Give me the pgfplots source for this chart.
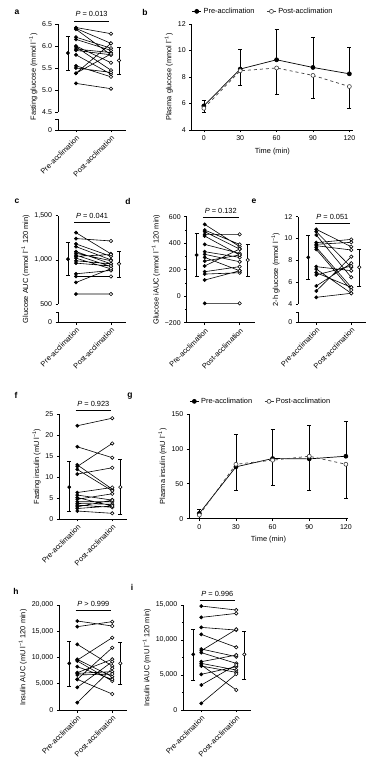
\documentclass[border=0pt]{standalone}
\usepackage{fontspec}
\setmainfont{Liberation Sans}
\usepackage{pgfplots}
\pgfplotsset{compat=1.18}
\usepackage{pgfplotstable}
\newcommand{\fs}{\fontsize{7.4}{8.4}\selectfont}
\newcommand{\fn}{\fontsize{7}{8}\selectfont}
\newcommand{\inv}{\textsuperscript{−1}}

% paired data: long format, x=0 pre, x=1 post, nan row separates pairs
\pgfplotstableread[row sep=\\]{x y\\
0 6.42\\1 6.28\\0 nan\\0 6.40\\1 6.06\\0 nan\\0 6.38\\1 5.80\\0 nan\\0 6.20\\1 5.95\\0 nan\\
0 6.15\\1 5.90\\0 nan\\0 6.00\\1 5.62\\0 nan\\0 5.98\\1 5.45\\0 nan\\0 5.93\\1 5.85\\0 nan\\
0 5.90\\1 5.80\\0 nan\\0 5.80\\1 5.36\\0 nan\\0 5.55\\1 5.30\\0 nan\\0 5.50\\1 5.40\\0 nan\\
0 5.38\\1 5.82\\0 nan\\0 5.38\\1 6.06\\0 nan\\0 5.15\\1 5.03\\}\tA

\pgfplotstableread[row sep=\\]{x y\\
0 1308\\1 1068\\0 nan\\0 1241\\1 1214\\0 nan\\0 1180\\1 1040\\0 nan\\0 1150\\1 1000\\0 nan\\
0 1094\\1 955\\0 nan\\0 1075\\1 990\\0 nan\\0 1053\\1 925\\0 nan\\0 1040\\1 1060\\0 nan\\
0 1019\\1 898\\0 nan\\0 989\\1 955\\0 nan\\0 963\\1 930\\0 nan\\0 842\\1 880\\0 nan\\
0 812\\1 812\\0 nan\\0 744\\1 900\\0 nan\\0 613\\1 613\\}\tC

\pgfplotstableread[row sep=\\]{x y\\
0 542\\1 374\\0 nan\\0 499\\1 391\\0 nan\\0 487\\1 356\\0 nan\\0 467\\1 467\\0 nan\\
0 454\\1 311\\0 nan\\0 391\\1 323\\0 nan\\0 336\\1 293\\0 nan\\0 316\\1 260\\0 nan\\
0 293\\1 192\\0 nan\\0 265\\1 311\\0 nan\\0 228\\1 356\\0 nan\\0 185\\1 223\\0 nan\\
0 167\\1 177\\0 nan\\0 122\\1 192\\0 nan\\0 -54\\1 -54\\}\tD

\pgfplotstableread[row sep=\\]{x y\\
0 10.84\\1 9.25\\0 nan\\0 10.63\\1 7.36\\0 nan\\0 10.32\\1 6.44\\0 nan\\0 9.62\\1 9.92\\0 nan\\
0 9.47\\1 9.65\\0 nan\\0 9.34\\1 8.95\\0 nan\\0 9.19\\1 5.53\\0 nan\\0 9.00\\1 5.28\\0 nan\\
0 7.42\\1 7.05\\0 nan\\0 7.20\\1 4.98\\0 nan\\0 6.87\\1 5.53\\0 nan\\0 6.66\\1 7.48\\0 nan\\
0 5.65\\1 7.73\\0 nan\\0 5.19\\1 8.34\\0 nan\\0 4.61\\1 4.98\\}\tE

\pgfplotstableread[row sep=\\]{x y\\
0 22.2\\1 24.0\\0 nan\\0 17.2\\1 14.6\\0 nan\\0 12.9\\1 7.1\\0 nan\\0 12.5\\1 18.0\\0 nan\\
0 11.8\\1 6.7\\0 nan\\0 10.7\\1 12.2\\0 nan\\0 6.3\\1 7.5\\0 nan\\0 5.7\\1 4.5\\0 nan\\
0 5.1\\1 3.1\\0 nan\\0 4.7\\1 6.0\\0 nan\\0 4.1\\1 4.1\\0 nan\\0 3.7\\1 3.5\\0 nan\\
0 3.3\\1 2.8\\0 nan\\0 2.9\\1 4.5\\0 nan\\0 2.5\\1 3.1\\0 nan\\0 1.9\\1 1.35\\}\tF

\pgfplotstableread[row sep=\\]{x y\\
0 16950\\1 16000\\0 nan\\0 15870\\1 16830\\0 nan\\0 12510\\1 8380\\0 nan\\0 9650\\1 6350\\0 nan\\
0 9500\\1 13780\\0 nan\\0 9330\\1 5520\\0 nan\\0 8250\\1 5840\\0 nan\\0 7110\\1 9650\\0 nan\\
0 6980\\1 7300\\0 nan\\0 6670\\1 6860\\0 nan\\0 5840\\1 11870\\0 nan\\0 5840\\1 3050\\0 nan\\
0 4320\\1 9210\\0 nan\\0 1400\\1 7940\\}\tH

\pgfplotstableread[row sep=\\]{x y\\
0 14850\\1 14280\\0 nan\\0 13230\\1 13800\\0 nan\\0 11800\\1 11420\\0 nan\\0 10800\\1 8950\\0 nan\\
0 8710\\1 7620\\0 nan\\0 8470\\1 11520\\0 nan\\0 8190\\1 6660\\0 nan\\0 6900\\1 7850\\0 nan\\
0 6660\\1 5710\\0 nan\\0 6430\\1 2860\\0 nan\\0 6280\\1 5380\\0 nan\\0 5100\\1 6190\\0 nan\\
0 3570\\1 6430\\0 nan\\0 950\\1 5140\\}\tI

% time courses: t, mean, error (pre: upward, post: downward)
\pgfplotstableread[row sep=\\]{t m e\\0 5.82 0.45\\30 8.60 1.46\\60 9.30 2.27\\90 8.72 2.30\\120 8.24 2.02\\}\BPre
\pgfplotstableread[row sep=\\]{t m e\\0 5.64 0.33\\30 8.47 1.09\\60 8.68 2.00\\90 8.12 1.75\\120 7.28 1.61\\}\BPost
\pgfplotstableread[row sep=\\]{t m e\\0 7.6 5.7\\30 74.3 46.7\\60 86.2 41.4\\90 85.7 47.6\\120 89.5 50.5\\}\GPre
\pgfplotstableread[row sep=\\]{t m e\\0 5.2 5.0\\30 78.0 37.0\\60 83.8 36.2\\90 89.5 48.5\\120 78.0 49.4\\}\GPost

\tikzset{axl/.style={line width=0.6pt},
  lab/.style={font=\bfseries\fontsize{8.5}{9}\selectfont}}

\pgfplotsset{
  base/.style={scale only axis, axis x line*=bottom, axis y line*=left,
    tick align=outside, major tick length=2.5pt, minor tick length=1.5pt,
    every tick/.style={black, line width=0.6pt},
    axis line style={line width=0.6pt},
    tick label style={font=\fn}, label style={font=\fs},
    scaled y ticks=false, scaled x ticks=false,
    clip=false, ylabel style={yshift=-2pt}},
  paired/.style={base, width=68pt, xmin=-0.514, xmax=1.43, xtick={0,1},
    xticklabels={Pre-acclimation,Post-acclimation},
    x tick label style={rotate=45, anchor=north east, inner sep=1.5pt, font=\fs}},
  lineS/.style={black, line width=0.6pt, no marks, unbounded coords=jump},
  preM/.style={only marks, mark=*, mark size=1.7pt, black, restrict x to domain=-0.1:0.1},
  postM/.style={only marks, mark=*, mark size=1.7pt, black, mark options={fill=white, line width=0.6pt}, restrict x to domain=0.9:1.1},
  errs/.style={error bars/y explicit, error bars/error bar style={solid, line width=0.6pt, black},
    error bars/error mark options={solid, rotate=90, mark size=2pt, line width=0.6pt, black}},
  meanpre/.style={black, only marks, mark=*, mark size=1.7pt, errs, error bars/y dir=both},
  meanpost/.style={black, only marks, mark=*, mark size=1.7pt, mark options={fill=white, line width=0.6pt}, errs, error bars/y dir=both},
  tcleg/.style={legend columns=2, legend style={at={(0,1)}, anchor=south west, draw=none, fill=none, font=\fs, inner sep=0pt, yshift=7pt, /tikz/every even column/.append style={column sep=10pt}},
    legend image code/.code={\draw[mark repeat=2,mark phase=2,##1] plot coordinates {(0pt,0pt)(4.5pt,0pt)(9pt,0pt)};}},
  tcpre/.style={black, solid, line width=0.7pt, mark=*, mark size=2pt, errs, error bars/y dir=plus},
  tcpost/.style={black!75, dashed, line width=0.7pt, mark=*, mark size=2pt, mark options={solid, fill=white, line width=0.6pt}, errs, error bars/y dir=minus}
}

\begin{document}
\begin{tikzpicture}
\useasboundingbox (0,0) rectangle (378pt,769pt);
\node[lab] at (17pt,757pt) {a};
\node[lab] at (145pt,757pt) {b};
\node[lab] at (17pt,568pt) {c};
\node[lab] at (128pt,568pt) {d};
\node[lab] at (254pt,568pt) {e};
\node[lab] at (16pt,374pt) {f};
\node[lab] at (130pt,373pt) {g};
\node[lab] at (16pt,178pt) {h};
\node[lab] at (132pt,182pt) {i};

% ---------- a ----------
\begin{axis}[paired, at={(58pt,639pt)}, anchor=south west, height=106pt,
  ymin=4.091, ymax=6.5, ytick={4.091,4.5,5,5.5,6,6.5}, yticklabels={0,4.5,5.0,5.5,6.0,6.5},
  y axis line style={draw=none}, ylabel={Fasting glucose (mmol l\inv)}]
\addplot[lineS] table {\tA};
\addplot[preM] table {\tA};
\addplot[postM] table {\tA};
\addplot[meanpre] coordinates {(-0.23,5.84) += (0,0.38) -= (0,0.39)};
\addplot[meanpost] coordinates {(1.23,5.67) += (0,0.31) -= (0,0.31)};
\draw[axl] (axis cs:-0.514,4.5) -- (axis cs:-0.514,6.5);
\draw[axl] (axis cs:-0.514,4.091) -- (axis cs:-0.514,4.34) -- ([xshift=-2.5pt]axis cs:-0.514,4.34);
\draw[axl] (axis cs:-0.05,6.57) -- node[above=0.3pt, font=\fs]{\textit{P} = 0.013} (axis cs:0.94,6.57);
\end{axis}

% ---------- b ----------
\begin{axis}[base, tcleg, at={(191.7pt,639pt)}, anchor=south west, width=161.3pt, height=106pt,
  xmin=-10, xmax=123, ymin=4, ymax=12, xtick={0,30,60,90,120}, xticklabels={0,30,60,90,120},
  ytick={4,6,8,10,12}, yticklabels={4,6,8,10,12},
  xlabel={Time (min)}, ylabel={Plasma glucose (mmol l\inv)}]
\addplot[tcpre] table[x=t, y=m, y error=e] {\BPre};
\addlegendentry{Pre-acclimation}
\addplot[tcpost] table[x=t, y=m, y error=e] {\BPost};
\addlegendentry{Post-acclimation}
\end{axis}

% ---------- c ----------
\begin{axis}[paired, at={(58pt,446.7pt)}, anchor=south west, height=106.6pt,
  ymin=293, ymax=1500, ytick={293,500,1000,1500}, yticklabels={0,500,{1,000},{1,500}},
  y axis line style={draw=none}, ylabel={Glucose AUC (mmol l\inv\ 120 min)}]
\addplot[lineS] table {\tC};
\addplot[preM] table {\tC};
\addplot[postM] table {\tC};
\addplot[meanpre] coordinates {(-0.23,1008) += (0,187) -= (0,188)};
\addplot[meanpost] coordinates {(1.23,955) += (0,139) -= (0,150)};
\draw[axl] (axis cs:-0.514,500) -- (axis cs:-0.514,1500);
\draw[axl] (axis cs:-0.514,293) -- (axis cs:-0.514,401.5) -- ([xshift=-2.5pt]axis cs:-0.514,401.5);
\draw[axl] (axis cs:-0.05,1420) -- node[above=0.3pt, font=\fs]{\textit{P} = 0.041} (axis cs:0.97,1420);
\end{axis}

% ---------- d ----------
\begin{axis}[paired, at={(186.7pt,446.3pt)}, anchor=south west, height=106pt,
  ymin=-200, ymax=600, ytick={-200,0,200,400,600}, yticklabels={−200,0,200,400,600},
  minor ytick={-100,100,300,500},
  ylabel={Glucose iAUC (mmol l\inv\ 120 min)}]
\addplot[lineS] table {\tD};
\addplot[preM] table {\tD};
\addplot[postM] table {\tD};
\addplot[meanpre] coordinates {(-0.23,311) += (0,163) -= (0,164)};
\addplot[meanpost] coordinates {(1.23,273) += (0,121) -= (0,126)};
\draw[axl] (axis cs:-0.05,592) -- node[above=0.3pt, font=\fs]{\textit{P} = 0.132} (axis cs:0.97,592);
\end{axis}

% ---------- e ----------
\begin{axis}[paired, at={(298.3pt,446.7pt)}, anchor=south west, height=105.6pt,
  ymin=2.32, ymax=12, ytick={2.32,4,6,8,10,12}, yticklabels={0,4,6,8,10,12},
  y axis line style={draw=none}, ylabel={2-h glucose (mmol l\inv)}]
\addplot[lineS] table {\tE};
\addplot[preM] table {\tE};
\addplot[postM] table {\tE};
\addplot[meanpre] coordinates {(-0.23,8.27) += (0,2.05) -= (0,1.98)};
\addplot[meanpost] coordinates {(1.23,7.36) += (0,1.64) -= (0,1.71)};
\draw[axl] (axis cs:-0.514,4) -- (axis cs:-0.514,12);
\draw[axl] (axis cs:-0.514,2.32) -- (axis cs:-0.514,3.2) -- ([xshift=-2.5pt]axis cs:-0.514,3.2);
\draw[axl] (axis cs:-0.05,11.4) -- node[above=0.3pt, font=\fs]{\textit{P} = 0.051} (axis cs:0.97,11.4);
\end{axis}

% ---------- f ----------
\begin{axis}[paired, at={(59.3pt,250pt)}, anchor=south west, height=105pt,
  ymin=0, ymax=25, ytick={0,5,10,15,20,25}, yticklabels={0,5,10,15,20,25},
  ylabel={Fasting insulin (mU l\inv)}]
\addplot[lineS] table {\tF};
\addplot[preM] table {\tF};
\addplot[postM] table {\tF};
\addplot[meanpre] coordinates {(-0.23,7.6) += (0,6.1) -= (0,5.85)};
\addplot[meanpost] coordinates {(1.23,7.6) += (0,6.7) -= (0,6.5)};
\draw[axl] (axis cs:-0.05,25.8) -- node[above=0.3pt, font=\fs]{\textit{P} = 0.923} (axis cs:0.97,25.8);
\end{axis}

% ---------- g ----------
\begin{axis}[base, tcleg, at={(189.3pt,250.3pt)}, anchor=south west, width=158.4pt, height=104.7pt,
  xmin=-8.2, xmax=121.5, ymin=0, ymax=150, xtick={0,30,60,90,120}, xticklabels={0,30,60,90,120},
  ytick={0,50,100,150}, yticklabels={0,50,100,150},
  xlabel={Time (min)}, ylabel={Plasma insulin (mU l\inv)}]
\addplot[tcpre] table[x=t, y=m, y error=e] {\GPre};
\addlegendentry{Pre-acclimation}
\addplot[tcpost] table[x=t, y=m, y error=e] {\GPost};
\addlegendentry{Post-acclimation}
\end{axis}

% ---------- h ----------
\begin{axis}[paired, at={(59.3pt,59pt)}, anchor=south west, height=105pt,
  ymin=0, ymax=20000, ytick={0,5000,10000,15000,20000}, yticklabels={0,{5,000},{10,000},{15,000},{20,000}},
  ylabel={Insulin AUC (mU l\inv\ 120 min)}]
\addplot[lineS] table {\tH};
\addplot[preM] table {\tH};
\addplot[postM] table {\tH};
\addplot[meanpre] coordinates {(-0.23,8890) += (0,4130) -= (0,4320)};
\addplot[meanpost] coordinates {(1.23,8890) += (0,4000) -= (0,3940)};
\draw[axl] (axis cs:-0.05,18900) -- node[above=0.3pt, font=\fs]{\textit{P} > 0.999} (axis cs:0.97,18900);
\end{axis}

% ---------- i ----------
\begin{axis}[paired, at={(183.3pt,59pt)}, anchor=south west, height=105pt,
  ymin=0, ymax=15000, ytick={0,5000,10000,15000}, yticklabels={0,{5,000},{10,000},{15,000}},
  minor ytick={2500,7500,12500},
  ylabel={Insulin iAUC (mU l\inv\ 120 min)}]
\addplot[lineS] table {\tI};
\addplot[preM] table {\tI};
\addplot[postM] table {\tI};
\addplot[meanpre] coordinates {(-0.23,7950) += (0,3620) -= (0,3710)};
\addplot[meanpost] coordinates {(1.23,7950) += (0,3330) -= (0,3520)};
\draw[axl] (axis cs:-0.05,15710) -- node[above=0.3pt, font=\fs]{\textit{P} = 0.996} (axis cs:0.97,15710);
\end{axis}
\end{tikzpicture}
\end{document}
